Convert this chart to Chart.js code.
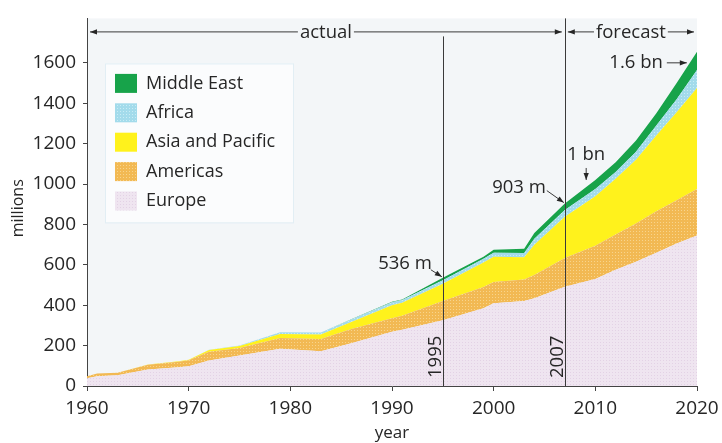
<!DOCTYPE html>
<html lang="en">
<head>
<meta charset="UTF-8">
<title>International tourist arrivals by region</title>
<script src="https://cdn.jsdelivr.net/npm/chart.js"></script>
<style>
  html, body { margin: 0; padding: 0; background: #fff; }
  #wrap { width: 722px; height: 443px; position: relative; }
</style>
</head>
<body>
<div id="wrap"><canvas id="chart"></canvas></div>
<script>
// values (millions of arrivals per region)
const years       = [1960, 1961, 1963, 1966, 1969, 1970, 1972, 1975, 1979, 1983, 1986, 1990, 1991, 1995, 1999, 2000, 2003, 2004, 2007, 2010, 2012, 2014, 2016, 2018, 2020];
const europe      = [38, 48, 53, 82, 93, 98, 126, 151, 184, 172, 212, 268, 278, 326, 385, 410, 421, 435, 492, 530, 575, 615, 660, 705, 745];
const americas    = [10, 14, 13, 23, 27, 30, 44, 37, 54, 61, 70, 67, 70, 95, 105, 105, 106, 115, 142, 165, 175, 190, 205, 215, 230];
const asiaPacific = [0, 0, 0, 1, 2, 2, 8, 10, 20, 22, 35, 65, 64, 85, 122, 125, 110, 149, 204, 245, 276, 315, 375, 435, 500];
const africa      = [0, 0, 0, 0, 0, 0, 1, 2, 8, 10, 12, 15, 14, 18, 18, 20, 21, 30, 33, 35, 33, 40, 50, 65, 90];
const middleEast  = [0, 0, 0, 0, 0, 0, 0, 0, 0, 0, 1, 2, 2, 12, 10, 15, 22, 28, 32, 45, 49, 55, 60, 80, 90];

const xTicks = [1960, 1970, 1980, 1990, 2000, 2010, 2020];
const yTicks = [0, 200, 400, 600, 800, 1000, 1200, 1400, 1600];

const markers = [['1995', 1995], ['2007', 2007]];
const FONT = "'Open Sans', 'DejaVu Sans', sans-serif";
const INK = '#262626';

function pattern(base, dot) {
    const c = document.createElement('canvas');
    c.width = c.height = 3;
    const g = c.getContext('2d');
    g.fillStyle = base;
    g.fillRect(0, 0, 3, 3);
    g.fillStyle = dot;
    g.fillRect(0, 0, 1, 1);
    return g.createPattern(c, 'repeat');
}

const series = [
    { label: 'Europe', data: europe, fill: pattern('#efe5f0', '#e3d2e5') },
    { label: 'Americas', data: americas, fill: pattern('#f2b953', '#f8d48c') },
    { label: 'Asia and Pacific', data: asiaPacific, fill: '#fff21c' },
    { label: 'Africa', data: africa, fill: pattern('#a3dbeb', '#c9ecf5') },
    { label: 'Middle East', data: middleEast, fill: '#17a34a' }
];

function arrow(ctx, x1, y1, x2, y2) {
    const a = Math.atan2(y2 - y1, x2 - x1);
    ctx.beginPath();
    ctx.moveTo(x1, y1);
    ctx.lineTo(x2, y2);
    ctx.stroke();
    ctx.beginPath();
    ctx.moveTo(x2, y2);
    ctx.lineTo(x2 - 7 * Math.cos(a) + 2.6 * Math.sin(a), y2 - 7 * Math.sin(a) - 2.6 * Math.cos(a));
    ctx.lineTo(x2 - 7 * Math.cos(a) - 2.6 * Math.sin(a), y2 - 7 * Math.sin(a) + 2.6 * Math.cos(a));
    ctx.closePath();
    ctx.fill();
}

const plotBg = {
    id: 'plotBg',
    beforeDraw(chart) {
        const { ctx, chartArea: a } = chart;
        ctx.save();
        ctx.fillStyle = '#f3f6f8';
        ctx.fillRect(a.left, a.top, a.right - a.left, a.bottom - a.top);
        ctx.restore();
    }
};

const notes = {
    id: 'notes',
    afterDatasetsDraw(chart) {
        const { ctx, chartArea: a } = chart;
        const xs = chart.scales.x, ys = chart.scales.y;
        const px = v => xs.getPixelForValue(v);
        const py = v => ys.getPixelForValue(v);
        ctx.save();
        ctx.strokeStyle = '#3a3a3a';
        ctx.fillStyle = INK;
        ctx.lineWidth = 1;

        // y axis title, sitting a little below the middle as in the print
        ctx.save();
        ctx.translate(18, py(880));
        ctx.rotate(-Math.PI / 2);
        ctx.font = '16px ' + FONT;
        ctx.textAlign = 'center';
        ctx.textBaseline = 'middle';
        ctx.fillText('millions', 0, 0);
        ctx.restore();

        // vertical marker lines
        markers.forEach(([txt, yr]) => {
            const x = Math.round(px(yr)) + 0.5;
            ctx.beginPath();
            ctx.moveTo(x, yr === 2007 ? a.top : a.top + 18);
            ctx.lineTo(x, a.bottom);
            ctx.stroke();
            ctx.save();
            ctx.translate(x - 3, a.bottom - 8);
            ctx.rotate(-Math.PI / 2);
            ctx.font = '18.5px ' + FONT;
            ctx.textAlign = 'left';
            ctx.textBaseline = 'alphabetic';
            ctx.fillText(txt, 0, 0);
            ctx.restore();
        });

        // actual / forecast spans
        ctx.font = '18.5px ' + FONT;
        ctx.textAlign = 'center';
        ctx.textBaseline = 'middle';
        const yTop = a.top + 13.5;
        const span = (from, to, txt) => {
            const l = px(from) + 3, r = px(to) - 3;
            const mid = (l + r) / 2;
            const w = ctx.measureText(txt).width / 2 + 2;
            arrow(ctx, mid - w, yTop, l, yTop);
            arrow(ctx, mid + w, yTop, r, yTop);
            ctx.fillText(txt, mid, yTop + 1);
        };
        span(1960, 2007, 'actual');
        span(2007, 2020, 'forecast');

        // value call-outs
        ctx.textAlign = 'right';
        let tx = px(1995), ty = py(536);
        arrow(ctx, tx - 12, ty - 8, tx - 1, ty - 1);
        ctx.fillText('536 m', tx - 11, ty - 14);

        tx = px(2007); ty = py(903);
        arrow(ctx, tx - 18, ty - 13, tx - 1, ty - 1);
        ctx.fillText('903 m', tx - 19, ty - 16);

        tx = px(2009.1); ty = py(1020);
        arrow(ctx, tx, ty - 12, tx, ty);
        ctx.textAlign = 'center';
        ctx.fillText('1 bn', tx, ty - 25);

        tx = px(2019); ty = py(1600);
        arrow(ctx, tx - 20, ty, tx, ty);
        ctx.textAlign = 'right';
        ctx.fillText('1.6 bn', tx - 24, ty);

        // legend box
        const bx = a.left + 18, by = a.top + 45;
        ctx.fillStyle = '#fbfcfd';
        ctx.fillRect(bx, by, 188, 159);
        ctx.strokeStyle = '#e2eef4';
        ctx.strokeRect(bx + 0.5, by + 0.5, 188, 159);
        ctx.font = '18px ' + FONT;
        ctx.textAlign = 'left';
        ctx.textBaseline = 'middle';
        series.slice().reverse().forEach((s, i) => {
            const cy = by + 20 + i * 29.4;
            ctx.fillStyle = s.fill;
            ctx.fillRect(bx + 10, cy - 9.5, 22, 19);
            ctx.fillStyle = INK;
            ctx.fillText(s.label, bx + 41, cy);
        });
        ctx.restore();
    }
};

new Chart(document.getElementById('chart'), {
    type: 'line',
    data: {
        datasets: series.map((s, i) => ({
            label: s.label,
            data: years.map((x, j) => ({ x, y: s.data[j] })),
            backgroundColor: s.fill,
            borderWidth: 0,
            pointRadius: 0,
            tension: 0,
            fill: i === 0 ? 'origin' : '-1'
        }))
    },
    options: {
        responsive: true,
        maintainAspectRatio: false,
        animation: false,
        devicePixelRatio: 1,
        layout: { padding: { top: 15, right: 25, left: 0, bottom: 0 } },
        plugins: { legend: { display: false }, tooltip: { enabled: false } },
        scales: {
            x: {
                type: 'linear',
                min: 1960,
                max: 2020,
                z: 1,
                afterFit: s => { s.height = 57; s.paddingLeft = 0; s.paddingRight = 0; },
                afterBuildTicks: s => { s.ticks = xTicks.map(v => ({ value: v })); },
                ticks: { color: INK, font: { family: FONT, size: 19 }, padding: 6, maxRotation: 0, callback: v => String(v) },
                grid: { drawOnChartArea: false, tickLength: 5, tickColor: '#444' },
                border: { color: '#444', width: 1 },
                title: { display: true, text: 'year', color: INK, font: { family: FONT, size: 17 }, padding: { top: 0, bottom: 0 } }
            },
            y: {
                stacked: true,
                min: 0,
                max: 1820,
                z: 1,
                afterFit: s => { s.width = 87; },
                afterBuildTicks: s => { s.ticks = yTicks.map(v => ({ value: v })); },
                ticks: { color: INK, font: { family: FONT, size: 19 }, padding: 7, callback: v => String(v) },
                grid: { drawOnChartArea: false, tickLength: 4, tickColor: '#444' },
                border: { color: '#444', width: 1 },
                title: { display: false }
            }
        }
    },
    plugins: [plotBg, notes]
});
</script>
</body>
</html>
